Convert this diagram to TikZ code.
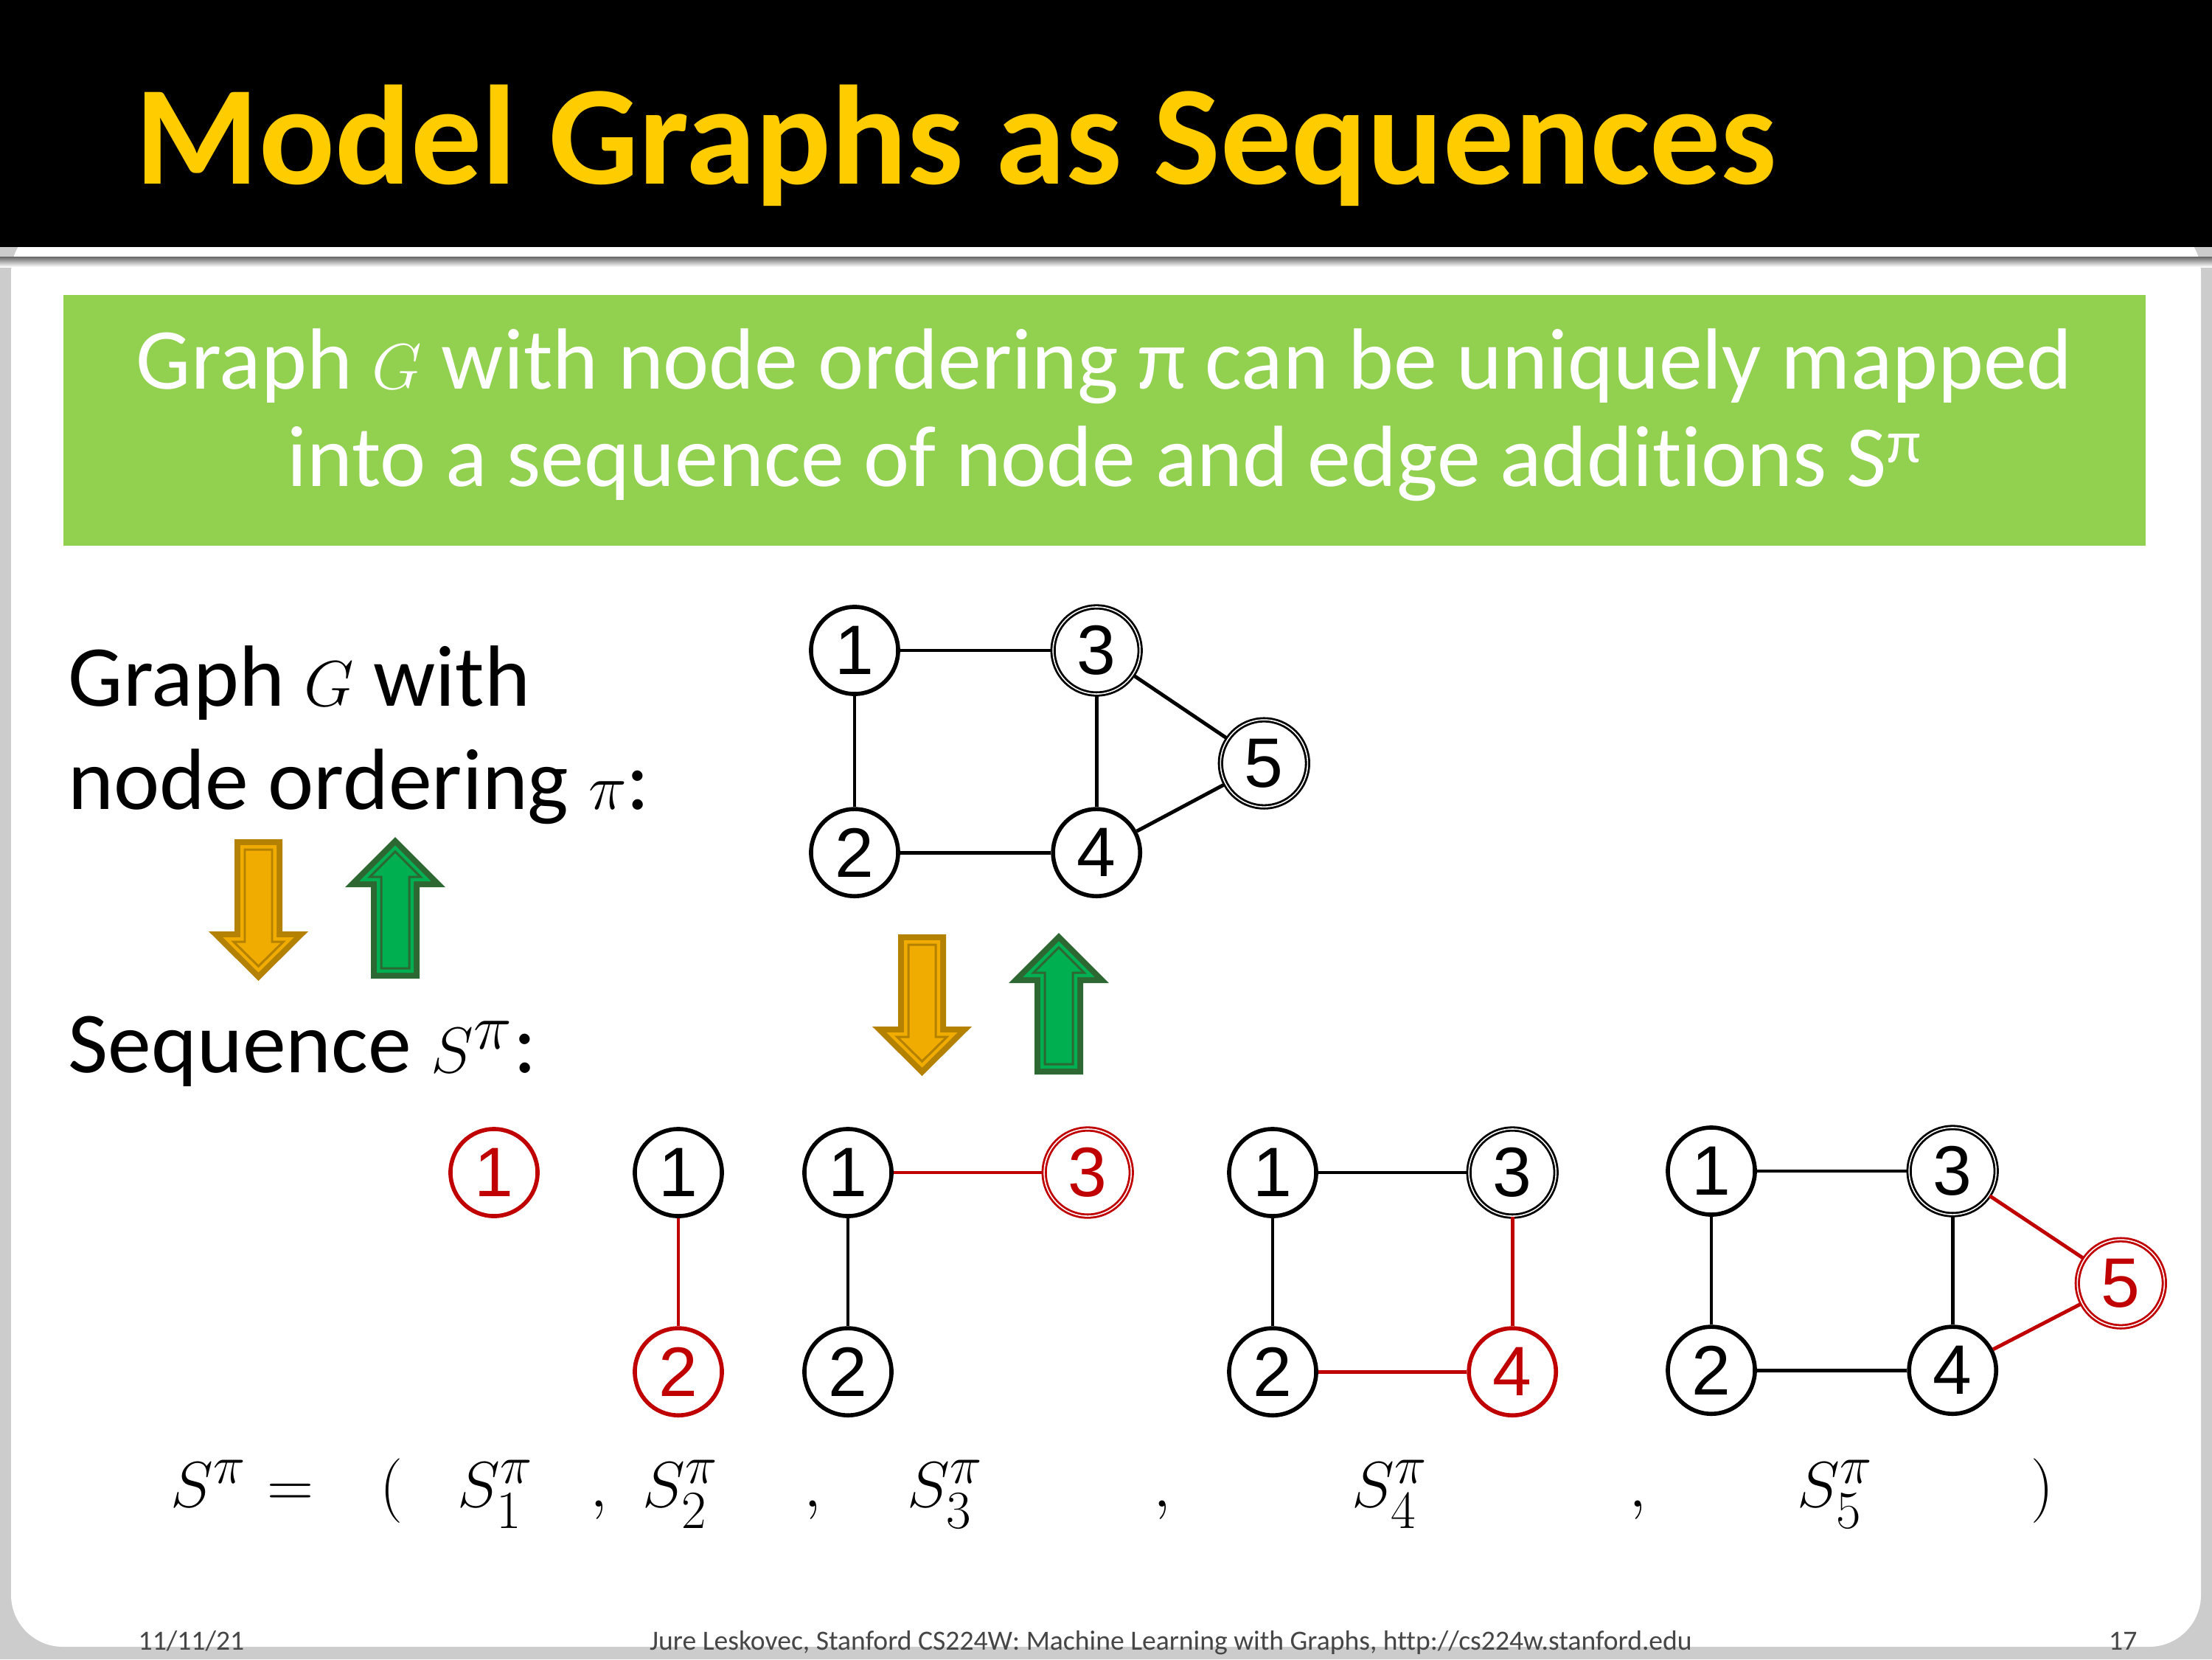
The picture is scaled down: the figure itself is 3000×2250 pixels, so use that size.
\documentclass[tikz,border=0pt]{standalone}
\usepackage{amsmath}
\usepackage{fontspec}
\setmainfont{Carlito}[Ligatures=NoCommon]
\newfontfamily\cifras{Liberation Sans}
\usetikzlibrary{positioning}
\definecolor{verdecaja}{RGB}{146,208,80}
\definecolor{rojo}{RGB}{192,0,0}
\definecolor{amarillo}{RGB}{255,204,0}
\definecolor{fondogris}{RGB}{204,204,204}
\definecolor{naranja}{RGB}{240,172,0}
\definecolor{naranjaosc}{RGB}{180,130,0}
\definecolor{verdeflecha}{RGB}{0,176,80}
\definecolor{verdeflechaosc}{RGB}{45,104,50}
\definecolor{gristexto}{RGB}{70,70,70}

% flechas gruesas: centro x, borde (y), margen interior, estilo
\newcommand{\abajo}[4]{\path[#4] (#1-32.5+#3,#2+#3) -- (#1+32.5-#3,#2+#3)
  -- (#1+32.5-#3,#2+125+#3) -- (#1+67.5-2.414*#3,#2+125+#3) -- (#1,#2+192-1.414*#3)
  -- (#1-67.5+2.414*#3,#2+125+#3) -- (#1-32.5+#3,#2+125+#3) -- cycle;}
\newcommand{\arriba}[4]{\path[#4] (#1-33+#3,#2-#3) -- (#1+33-#3,#2-#3)
  -- (#1+33-#3,#2-124-#3) -- (#1+68-2.414*#3,#2-124-#3) -- (#1,#2-192+1.414*#3)
  -- (#1-68+2.414*#3,#2-124-#3) -- (#1-33+#3,#2-124-#3) -- cycle;}
\newcommand{\flechaabajo}[2]{%
  \abajo{#1}{#2}{0}{fill=naranjaosc}
  \abajo{#1}{#2}{8}{fill=naranja}
  \abajo{#1}{#2}{14}{draw=naranjaosc, line width=0.85pt}}
\newcommand{\flechaarriba}[2]{%
  \arriba{#1}{#2}{0}{fill=verdeflechaosc}
  \arriba{#1}{#2}{8}{fill=verdeflecha}
  \arriba{#1}{#2}{14}{draw=verdeflechaosc, line width=0.85pt}}

\begin{document}
\begin{tikzpicture}[x=0.01cm, y=-0.01cm,
  nodo/.style={on grid, circle, draw, line width=1.6pt, minimum size=1.18cm, inner sep=0pt,
               font=\cifras\fontsize{27}{27}\selectfont},
  nuevo/.style={nodo, draw=rojo, text=rojo},
  doble/.style={double=white, double distance=0.45pt, line width=0.8pt},
  arista/.style={line width=1.4pt},
  aristanueva/.style={arista, draw=rojo},
  texto/.style={font=\fontsize{33.5}{40}\selectfont, inner sep=0pt},
  formula/.style={font=\fontsize{30}{32}\selectfont, anchor=base, inner sep=0pt},
  pie/.style={font=\fontsize{10.7}{13}\selectfont, text=gristexto, inner sep=0pt}]
  \useasboundingbox (0,0) rectangle (3000,2250);
  % marco de la diapositiva
  \fill[fondogris] (0,0) rectangle (3000,2250);
  \fill[white, rounded corners=20] (15,300) rectangle (2985,2233);
  \fill[black] (0,0) rectangle (3000,335);
  \shade[top color=black!60, bottom color=white] (0,348) rectangle (3000,362);
  \node[anchor=base west, inner sep=0pt, text=amarillo,
        font=\fontsize{54.5}{60}\selectfont\bfseries] (tit) at (183,249)
        {Model Graphs as Sequences};
  % caja verde
  \fill[verdecaja] (86,400) rectangle (2910,740);
  \node[texto, text=white, anchor=base] (l1) at (1498,527)
       {Graph $G$ with node ordering π can be uniquely mapped};
  \node[texto, text=white, anchor=base] (l2) at (1498,659)
       {into a sequence of node and edge additions S\textsuperscript{π}};
  % textos de la izquierda
  \node[texto, anchor=base west] (g1) at (92,957) {Graph $G$ with};
  \node[texto, anchor=base west] (g2) at (92,1097) {node ordering $\pi$:};
  \node[texto, anchor=base west] (sq) at (92,1454) {Sequence $S^{\pi}$:};
  \flechaabajo{350.5}{1138}
  \flechaarriba{536}{1327}
  \flechaabajo{1250.5}{1267}
  \flechaarriba{1436}{1457}
  % grafo G
  \node[nodo] (a1) at (1159,882) {1};
  \node[nodo, doble, right=3.28cm of a1] (a3) {3};
  \node[nodo, below=2.74cm of a1] (a2) {2};
  \node[nodo, below=2.74cm of a3] (a4) {4};
  \node[nodo, doble, below right=1.53cm and 2.27cm of a3] (a5) {5};
  \foreach \a/\b in {a1/a3, a1/a2, a3/a4, a2/a4, a3/a5, a4/a5}
    \draw[arista] (\a) -- (\b);
  % paso 1
  \node[nuevo] (p1n1) at (670,1590) {1};
  % paso 2
  \node[nodo] (p2n1) at (920,1590) {1};
  \node[nuevo, below=2.70cm of p2n1] (p2n2) {2};
  \draw[aristanueva] (p2n1) -- (p2n2);
  % paso 3
  \node[nodo] (p3n1) at (1150,1590) {1};
  \node[nodo, below=2.70cm of p3n1] (p3n2) {2};
  \node[nuevo, doble, right=3.25cm of p3n1] (p3n3) {3};
  \draw[arista] (p3n1) -- (p3n2);
  \draw[aristanueva] (p3n1) -- (p3n3);
  % paso 4
  \node[nodo] (p4n1) at (1726,1590) {1};
  \node[nodo, below=2.70cm of p4n1] (p4n2) {2};
  \node[nodo, doble, right=3.25cm of p4n1] (p4n3) {3};
  \node[nuevo, below=2.70cm of p4n3] (p4n4) {4};
  \foreach \a/\b in {p4n1/p4n3, p4n1/p4n2}
    \draw[arista] (\a) -- (\b);
  \foreach \a/\b in {p4n3/p4n4, p4n2/p4n4}
    \draw[aristanueva] (\a) -- (\b);
  % paso 5
  \node[nodo] (p5n1) at (2321,1588) {1};
  \node[nodo, below=2.70cm of p5n1] (p5n2) {2};
  \node[nodo, doble, right=3.27cm of p5n1] (p5n3) {3};
  \node[nodo, below=2.70cm of p5n3] (p5n4) {4};
  \node[nuevo, doble, below right=1.52cm and 2.28cm of p5n3] (p5n5) {5};
  \foreach \a/\b in {p5n1/p5n3, p5n1/p5n2, p5n3/p5n4, p5n2/p5n4}
    \draw[arista] (\a) -- (\b);
  \foreach \a/\b in {p5n3/p5n5, p5n4/p5n5}
    \draw[aristanueva] (\a) -- (\b);
  % secuencia
  \node[formula] (sp) at (283,2043) {$S^{\pi}$};
  \node[formula] (ig) at (394,2043) {$=$};
  \node[formula] (pa) at (531,2043) {$($};
  \node[formula] (s1) at (672,2043) {$S_1^{\pi}$};
  \node[formula] (c1) at (812,2043) {$,$};
  \node[formula] (s2) at (923,2043) {$S_2^{\pi}$};
  \node[formula] (c2) at (1102,2043) {$,$};
  \node[formula] (s3) at (1282,2043) {$S_3^{\pi}$};
  \node[formula] (c3) at (1576,2043) {$,$};
  \node[formula] (s4) at (1885,2043) {$S_4^{\pi}$};
  \node[formula] (c4) at (2221,2043) {$,$};
  \node[formula] (s5) at (2489,2043) {$S_5^{\pi}$};
  \node[formula] (pc) at (2770,2043) {$)$};
  % pie
  \node[pie, anchor=base west] (fecha) at (187,2237) {11/11/21};
  \node[pie, anchor=base] (autor) at (1588,2237)
       {Jure Leskovec, Stanford CS224W: Machine Learning with Graphs, http://cs224w.stanford.edu};
  \node[pie, anchor=base east] (num) at (2899,2237) {17};
\end{tikzpicture}
\end{document}
